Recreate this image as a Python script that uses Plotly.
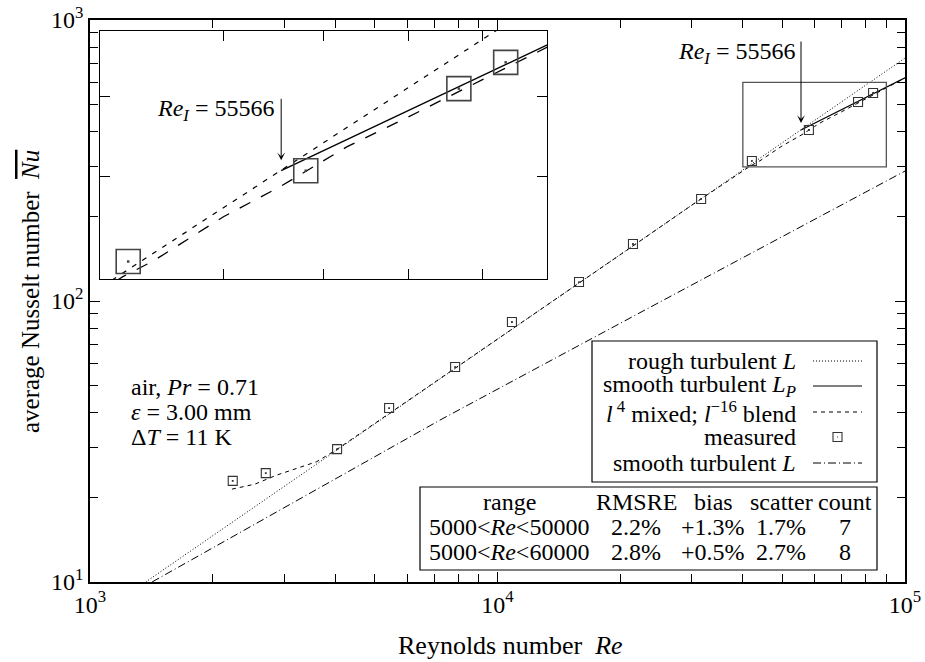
import math
import plotly.graph_objects as go

# ---------------- data ----------------
re_measured = [2240, 2700, 4040, 5420, 7870, 10850, 15850, 21500, 31600, 42100, 58100, 76700, 83500]
nu_measured = [22.9, 24.4, 29.7, 41.6, 58.2, 84.2, 116.8, 159.5, 230.7, 315, 406, 510.8, 549.7]

re_rough = [1370, 100000]                 # rough turbulent L
nu_rough = [10.0, 732]

re_smooth_lp = [55566, 60700, 100000]     # smooth turbulent L_P (drawn from Re_I)
nu_smooth_lp = [406, 433, 623]

re_blend = [2230, 2540, 2870, 3600, 4030, 5050, 10000, 20000, 30000, 41700, 44060,
            50040, 55566, 59980, 62580, 70000, 80000, 87800, 100000]
nu_blend = [21.4, 22.3, 24.0, 26.8, 29.6, 37.0, 73.2, 146, 219.5, 302, 315.5,
            357, 389, 418, 434, 472, 524, 564, 622]

re_smooth_l = [1420, 7226, 23010, 100000]  # smooth turbulent L
nu_smooth_l = [10.0, 37.7, 92.9, 290]

re_transition = 55566
nu_arrow_tip_main = 430
nu_arrow_tip_inset = 418

zoom_re = [40000, 90000]
zoom_nu = [300, 600]

x_major = [1e3, 1e4, 1e5]
x_major_text = ["10<sup>3</sup>", "10<sup>4</sup>", "10<sup>5</sup>"]
y_major = [1e1, 1e2, 1e3]
y_major_text = ["10<sup>1</sup>", "10<sup>2</sup>", "10<sup>3</sup>"]
x_minor = [m * 10 ** e for e in (3, 4) for m in range(2, 10)]
y_minor = [m * 10 ** e for e in (1, 2) for m in range(2, 10)]
inset_x_ticks = [50000, 60000, 70000, 80000]
inset_y_ticks = [400, 500]

legend_labels = ["rough turbulent <i>L</i>",
                 "smooth turbulent <i>L<sub>P</sub></i>",
                 "<i>l</i><sup> 4</sup> mixed; <i>l</i><sup>\u221216</sup> blend",
                 "measured",
                 "smooth turbulent <i>L</i>"]

table_header = ["range", "RMSRE", "bias", "scatter", "count"]
table_range = ["5000&lt;<i>Re</i>&lt;50000", "5000&lt;<i>Re</i>&lt;60000"]
table_rmsre = ["2.2%", "2.8%"]
table_bias = ["+1.3%", "+0.5%"]
table_scatter = ["1.7%", "2.7%"]
table_count = ["7", "8"]

info_lines = ["air, <i>Pr</i> = 0.71", "<i>\u03b5</i> = 3.00 mm", "\u0394<i>T</i> = 11 K"]

# ---------------- styling / layout helpers ----------------
W, H = 925, 662
L, R, T, B = 90, 905, 20, 582
FONT = "Liberation Serif"
FS = 24

def px(x):
    return (x - L) / (R - L)

def py(y):
    return (B - y) / (B - T)

DOT = "1px,2px"
BLEND = "4px,4px"
DASHDOT = "8px,3px,1px,3px"

fig = go.Figure()

# main plot curves
fig.add_trace(go.Scatter(x=re_rough, y=nu_rough, mode="lines",
                         line=dict(color="black", width=1, dash=DOT)))
fig.add_trace(go.Scatter(x=re_smooth_lp, y=nu_smooth_lp, mode="lines",
                         line=dict(color="black", width=1.2)))
fig.add_trace(go.Scatter(x=re_blend, y=nu_blend, mode="lines",
                         line=dict(color="black", width=1, dash=BLEND)))
fig.add_trace(go.Scatter(x=re_smooth_l, y=nu_smooth_l, mode="lines",
                         line=dict(color="black", width=1, dash=DASHDOT)))
fig.add_trace(go.Scatter(x=re_measured, y=nu_measured, mode="markers",
                         marker=dict(symbol="square-open", size=9,
                                     line=dict(color="#333", width=1.1), color="#333")))
fig.add_trace(go.Scatter(x=re_measured, y=nu_measured, mode="markers",
                         marker=dict(symbol="square", size=1.8, color="#333")))

# inset curves (magnified copy of the boxed region)
fig.add_trace(go.Scatter(x=re_rough, y=nu_rough, mode="lines", xaxis="x2", yaxis="y2",
                         line=dict(color="black", width=1.2, dash="5px,7px")))
fig.add_trace(go.Scatter(x=re_smooth_lp, y=nu_smooth_lp, mode="lines", xaxis="x2", yaxis="y2",
                         line=dict(color="black", width=1.4)))
fig.add_trace(go.Scatter(x=re_blend, y=nu_blend, mode="lines", xaxis="x2", yaxis="y2",
                         line=dict(color="black", width=1.3, dash="12px,12px")))
fig.add_trace(go.Scatter(x=re_smooth_l, y=nu_smooth_l, mode="lines", xaxis="x2", yaxis="y2",
                         line=dict(color="black", width=1.3, dash="24px,9px,3px,9px")))
fig.add_trace(go.Scatter(x=re_measured, y=nu_measured, mode="markers", xaxis="x2", yaxis="y2",
                         marker=dict(symbol="square-open", size=24,
                                     line=dict(color="#444", width=1.6), color="#444")))
fig.add_trace(go.Scatter(x=re_measured, y=nu_measured, mode="markers", xaxis="x2", yaxis="y2",
                         marker=dict(symbol="square", size=2.5, color="#444")))

axis_common = dict(showline=True, linecolor="black", linewidth=1.5, mirror="allticks",
                   ticks="inside", ticklen=10, tickwidth=1, tickcolor="black",
                   showgrid=False, zeroline=False, automargin=False,
                   tickfont=dict(family=FONT, size=24, color="black"))

fig.update_layout(
    width=W, height=H,
    margin=dict(l=L, r=W - R, t=T, b=H - B, autoexpand=False),
    paper_bgcolor="white", plot_bgcolor="white",
    showlegend=False,
    font=dict(family=FONT, size=FS, color="black"),
    xaxis=dict(type="log", range=[3, 5], tickvals=x_major, ticktext=x_major_text,
               minor=dict(tickvals=x_minor, ticks="inside", ticklen=8, tickwidth=1,
                          tickcolor="black", showgrid=False),
               **axis_common),
    yaxis=dict(type="log", range=[1, 3], tickvals=y_major, ticktext=y_major_text,
               minor=dict(tickvals=y_minor, ticks="inside", ticklen=8, tickwidth=1,
                          tickcolor="black", showgrid=False),
               **axis_common),
    xaxis2=dict(type="log", anchor="y2", domain=[px(100), px(547)],
                range=[math.log10(zoom_re[0]), math.log10(zoom_re[1])],
                tickvals=inset_x_ticks, showticklabels=False, automargin=False,
                showline=True, linecolor="black", linewidth=1.3, mirror="allticks",
                ticks="inside", ticklen=10, tickcolor="black", showgrid=False, zeroline=False),
    yaxis2=dict(type="log", anchor="x2", domain=[py(279), py(31)],
                range=[math.log10(zoom_nu[0]), math.log10(zoom_nu[1])],
                tickvals=inset_y_ticks, showticklabels=False, automargin=False,
                showline=True, linecolor="black", linewidth=1.3, mirror="allticks",
                ticks="inside", ticklen=10, tickcolor="black", showgrid=False, zeroline=False),
)

shapes = []
annotations = []

# zoom rectangle on the main plot
shapes.append(dict(type="rect", xref="x", yref="y", x0=zoom_re[0], x1=zoom_re[1],
                   y0=zoom_nu[0], y1=zoom_nu[1], line=dict(color="#555", width=1.3)))

# legend box
shapes.append(dict(type="rect", xref="paper", yref="paper", x0=px(592), x1=px(877),
                   y0=py(482), y1=py(341), line=dict(color="black", width=1.2),
                   fillcolor="white", layer="above"))
legend_rows = [361, 386, 412, 437, 463]
legend_styles = [DOT, "solid", BLEND, None, DASHDOT]
for lab, yy, st in zip(legend_labels, legend_rows, legend_styles):
    annotations.append(dict(xref="paper", yref="paper", x=px(798), y=py(yy), text=lab,
                            showarrow=False, xanchor="right", yanchor="middle"))
    if st is None:
        shapes.append(dict(type="rect", xref="paper", yref="paper", x0=px(833), x1=px(842),
                           y0=py(yy + 4.5), y1=py(yy - 4.5),
                           line=dict(color="#333", width=1.1), layer="above"))
        shapes.append(dict(type="rect", xref="paper", yref="paper", x0=px(837), x1=px(838),
                           y0=py(yy + 0.5), y1=py(yy - 0.5), fillcolor="#333",
                           line=dict(width=0), layer="above"))
    else:
        shapes.append(dict(type="line", xref="paper", yref="paper", x0=px(813), x1=px(862),
                           y0=py(yy), y1=py(yy), line=dict(color="black", width=1, dash=st),
                           layer="above"))

# statistics table
shapes.append(dict(type="rect", xref="paper", yref="paper", x0=px(420), x1=px(877),
                   y0=py(570), y1=py(487), line=dict(color="black", width=1.2),
                   fillcolor="white", layer="above"))
col_x = [509, 636, 713, 781, 845]
row_y = [502, 527, 552]
for cx, txt in zip(col_x, table_header):
    annotations.append(dict(xref="paper", yref="paper", x=px(cx), y=py(row_y[0]), text=txt,
                            showarrow=False, xanchor="center", yanchor="middle"))
for i in range(len(table_range)):
    vals = [table_range[i], table_rmsre[i], table_bias[i], table_scatter[i], table_count[i]]
    for cx, txt in zip(col_x, vals):
        annotations.append(dict(xref="paper", yref="paper", x=px(cx), y=py(row_y[i + 1]),
                                text=txt, showarrow=False, xanchor="center", yanchor="middle"))

# condition text
for txt, yy in zip(info_lines, [387, 412, 437]):
    annotations.append(dict(xref="paper", yref="paper", x=px(129), y=py(yy), text=txt,
                            showarrow=False, xanchor="left", yanchor="middle"))

# Re_I annotations (main and inset)
re_label = "<i>Re<sub>I</sub></i> = %d" % re_transition
annotations.append(dict(xref="x", yref="y", x=math.log10(re_transition),
                        y=math.log10(nu_arrow_tip_main), text="", showarrow=True,
                        ax=0, ay=-83, arrowhead=3, arrowsize=1.3, arrowwidth=1,
                        arrowcolor="black"))
annotations.append(dict(xref="paper", yref="paper", x=px(797), y=py(53), text=re_label,
                        showarrow=False, xanchor="right", yanchor="middle"))
annotations.append(dict(xref="x2", yref="y2", x=math.log10(re_transition),
                        y=math.log10(nu_arrow_tip_inset), text="", showarrow=True,
                        ax=0, ay=-63, arrowhead=3, arrowsize=1.3, arrowwidth=1,
                        arrowcolor="black"))
annotations.append(dict(xref="paper", yref="paper", x=px(276), y=py(110), text=re_label,
                        showarrow=False, xanchor="right", yanchor="middle"))

# axis titles
annotations.append(dict(xref="paper", yref="paper", x=px(510), y=py(645),
                        text="Reynolds number\u00a0\u00a0<i>Re</i>", showarrow=False,
                        xanchor="center", yanchor="middle", font=dict(size=26)))
annotations.append(dict(xref="paper", yref="paper", x=px(30), y=py(292), textangle=-90,
                        text='average Nusselt number\u00a0\u00a0<span style="text-decoration:overline"><i>Nu</i></span>',
                        showarrow=False, xanchor="center", yanchor="middle", font=dict(size=25)))

fig.update_layout(shapes=shapes, annotations=annotations)
fig.write_html("out.html", config={"displayModeBar": False},
               post_script="document.body.style.margin='0';document.body.style.overflow='hidden';")
